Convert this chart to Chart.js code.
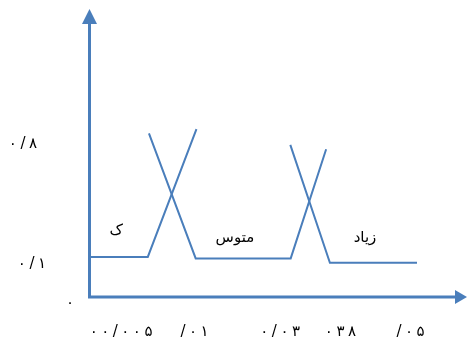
<!DOCTYPE html>
<html><head><meta charset="utf-8">
<script src="https://cdn.jsdelivr.net/npm/chart.js@4"></script>
<style>html,body{margin:0;padding:0;background:#fff}#wrap{width:467px;height:341px;position:relative}</style>
</head><body><div id="wrap"><canvas id="c"></canvas></div>
<script>
// membership curves (normalized units 0..1)
const lowX = [0, 0.156, 0.285];
const lowY = [0.139, 0.139, 0.583];
const midX = [0.159, 0.283, 0.535, 0.629];
const midY = [0.568, 0.134, 0.134, 0.513];
const highX = [0.534, 0.639, 0.870];
const highY = [0.528, 0.119, 0.119];
// class names
const classNames = ['ک', 'متوس', 'زیاد'];
const classX = [0.072, 0.387, 0.732];
const classY = [0.228, 0.205, 0.205];
// axis tick labels
const xTickLabels = ['۰۰/۰۰۵', '/۰۱', '۰/۰۳', '۰۳۸', '/۰۵'];
const xTickValues = [0.085, 0.28, 0.507, 0.667, 0.853];
const yTickLabels = ['۰/۸', '۰/۱', '۰'];
const yTickValues = [0.532, 0.115, -0.022];

const BLUE = '#4a7ebb';
const pts = (xs, ys) => xs.map((x, i) => ({x, y: ys[i]}));
const ds = (xs, ys) => ({data: pts(xs, ys), showLine: true, borderColor: BLUE, borderWidth: 2, pointRadius: 0, tension: 0, fill: false, clip: false});

function drawSpaced(ctx, text, x, y, extra, align) {
  const chars = Array.from(text);
  const ws = chars.map(c => ctx.measureText(c).width);
  const total = ws.reduce((a, b) => a + b, 0) + extra * (chars.length - 1);
  let cx = align === 'right' ? x - total : x - total / 2;
  ctx.textAlign = 'left';
  chars.forEach((c, i) => { ctx.fillText(c, cx, y); cx += ws[i] + extra; });
}

const axesPlugin = {
  id: 'axes',
  beforeDatasetsDraw(chart) {
    const {ctx} = chart; const xs = chart.scales.x, ys = chart.scales.y;
    const x0 = xs.getPixelForValue(0) + 0.5, y0 = ys.getPixelForValue(0);
    ctx.save();
    ctx.strokeStyle = BLUE; ctx.fillStyle = BLUE; ctx.lineWidth = 3;
    ctx.beginPath(); ctx.moveTo(x0, y0 + 1); ctx.lineTo(x0, ys.top + 14); ctx.stroke();
    ctx.beginPath(); ctx.moveTo(x0, ys.top); ctx.lineTo(x0 - 7.5, ys.top + 15); ctx.lineTo(x0 + 7.5, ys.top + 15); ctx.closePath(); ctx.fill();
    ctx.beginPath(); ctx.moveTo(x0 - 1.5, y0); ctx.lineTo(xs.right - 10, y0); ctx.stroke();
    ctx.beginPath(); ctx.moveTo(xs.right + 1, y0); ctx.lineTo(xs.right - 11, y0 - 7); ctx.lineTo(xs.right - 11, y0 + 7); ctx.closePath(); ctx.fill();
    ctx.restore();
  },
  afterDraw(chart) {
    const {ctx} = chart; const xs = chart.scales.x, ys = chart.scales.y;
    ctx.save();
    ctx.fillStyle = '#000';
    ctx.font = '15px "DejaVu Sans"';
    ctx.textAlign = 'center'; ctx.textBaseline = 'middle';
    classNames.forEach((t, i) => ctx.fillText(t, xs.getPixelForValue(classX[i]), ys.getPixelForValue(classY[i])));
    const extra = 3.5;
    xTickLabels.forEach((t, i) => drawSpaced(ctx, t, xs.getPixelForValue(xTickValues[i]), 332, extra, 'center'));
    const yLabelRight = [37, 46, 74];
    yTickLabels.forEach((t, i) => drawSpaced(ctx, t, yLabelRight[i], ys.getPixelForValue(yTickValues[i]), extra, 'right'));
    ctx.restore();
  }
};

new Chart(document.getElementById('c'), {
  type: 'scatter',
  data: {datasets: [ds(lowX, lowY), ds(midX, midY), ds(highX, highY)]},
  options: {
    responsive: true, maintainAspectRatio: false, animation: false,
    layout: {padding: {left: 89, top: 9, right: 1, bottom: 44}},
    scales: {
      x: {type: 'linear', min: 0, max: 1, display: false},
      y: {type: 'linear', min: 0, max: 1, display: false}
    },
    plugins: {legend: {display: false}, tooltip: {enabled: false}}
  },
  plugins: [axesPlugin]
});
</script></body></html>
